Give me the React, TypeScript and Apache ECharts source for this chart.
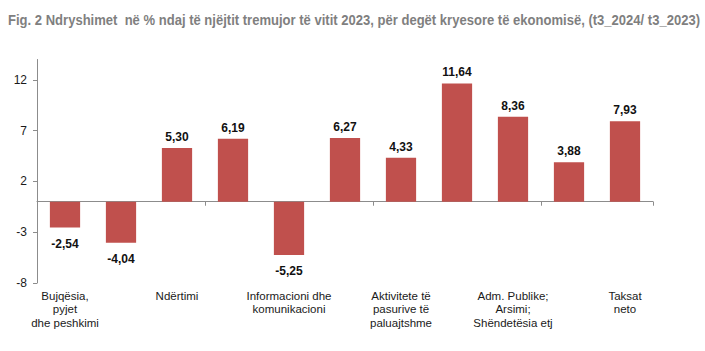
import React, { useEffect, useRef } from "react";
import * as echarts from "echarts";

const title =
  "Fig. 2 Ndryshimet  në % ndaj të njëjtit tremujor të vitit 2023, për degët kryesore të ekonomisë, (t3_2024/ t3_2023)";

const categories = [
  "Bujqësia,\npyjet\ndhe peshkimi",
  "Industria",
  "Ndërtimi",
  "Tregtia; Transporti",
  "Informacioni dhe\nkomunikacioni",
  "Aktivitete financiare",
  "Aktivitete të\npasurive të\npaluajtshme",
  "Aktivitete profesionale",
  "Adm. Publike;\nArsimi;\nShëndetësia etj",
  "Art, argëtim",
  "Taksat\nneto",
];

const values = [-2.54, -4.04, 5.3, 6.19, -5.25, 6.27, 4.33, 11.64, 8.36, 3.88, 7.93];

const yTickValues = [-8, -3, 2, 7, 12];

const FONT = "'Liberation Sans', Arial, sans-serif";

export default function App() {
  const ref = useRef<HTMLDivElement>(null);
  useEffect(() => {
    if (!ref.current) return;
    const chart = echarts.init(ref.current, null, { renderer: "svg" });
    const fmt = (v: number) => v.toFixed(2).replace(".", ",");
    chart.setOption({
      animation: false,
      backgroundColor: "#ffffff",
      graphic: [
        {
          type: "text",
          x: 8,
          y: 20,
          scaleX: 0.87,
          style: {
            text: title,
            fontFamily: FONT,
            fontSize: 15,
            fontWeight: "bold",
            fill: "#7f7f7f",
            textVerticalAlign: "middle",
            textAlign: "left",
          },
        },
      ],
      grid: { left: 37, right: 52, top: 59.5, bottom: 68, containLabel: false },
      xAxis: [
        {
          type: "category",
          data: categories,
          axisLine: { show: true, onZero: true, lineStyle: { color: "#8c8c8c", width: 1 } },
          axisTick: { show: true, length: 4, lineStyle: { color: "#8c8c8c" } },
          axisLabel: { show: false },
          splitLine: { show: false },
        },
        {
          type: "category",
          data: categories,
          position: "bottom",
          axisLine: { show: false, onZero: false },
          axisTick: { show: false },
          axisLabel: {
            show: true,
            interval: 1,
            margin: 6,
            fontFamily: FONT,
            fontSize: 11.5,
            lineHeight: 13.5,
            color: "#1a1a1a",
            verticalAlign: "top",
          },
          splitLine: { show: false },
        },
      ],
      yAxis: {
        type: "value",
        min: -8,
        max: 14,
        interval: 5,
        axisLine: { show: true, lineStyle: { color: "#8c8c8c", width: 1 } },
        axisTick: { show: true, length: 4, customValues: yTickValues, lineStyle: { color: "#8c8c8c" } },
        axisLabel: {
          customValues: yTickValues,
          margin: 10,
          fontFamily: FONT,
          fontSize: 12,
          color: "#1a1a1a",
        },
        splitLine: { show: false },
      },
      series: [
        {
          type: "bar",
          xAxisIndex: 0,
          barWidth: "54%",
          itemStyle: { color: "#c0504d" },
          data: values.map((v) => ({
            value: v,
            label: {
              show: true,
              position: v >= 0 ? "top" : "bottom",
              distance: v >= 0 ? 5 : 10,
              formatter: () => fmt(v),
              fontFamily: FONT,
              fontSize: 12,
              fontWeight: "bold",
              color: "#111111",
            },
          })),
        },
      ],
    });
    return () => chart.dispose();
  }, []);
  return (
    <div
      ref={ref}
      style={{ position: "fixed", left: 0, top: 0, width: 705, height: 351 }}
    />
  );
}
